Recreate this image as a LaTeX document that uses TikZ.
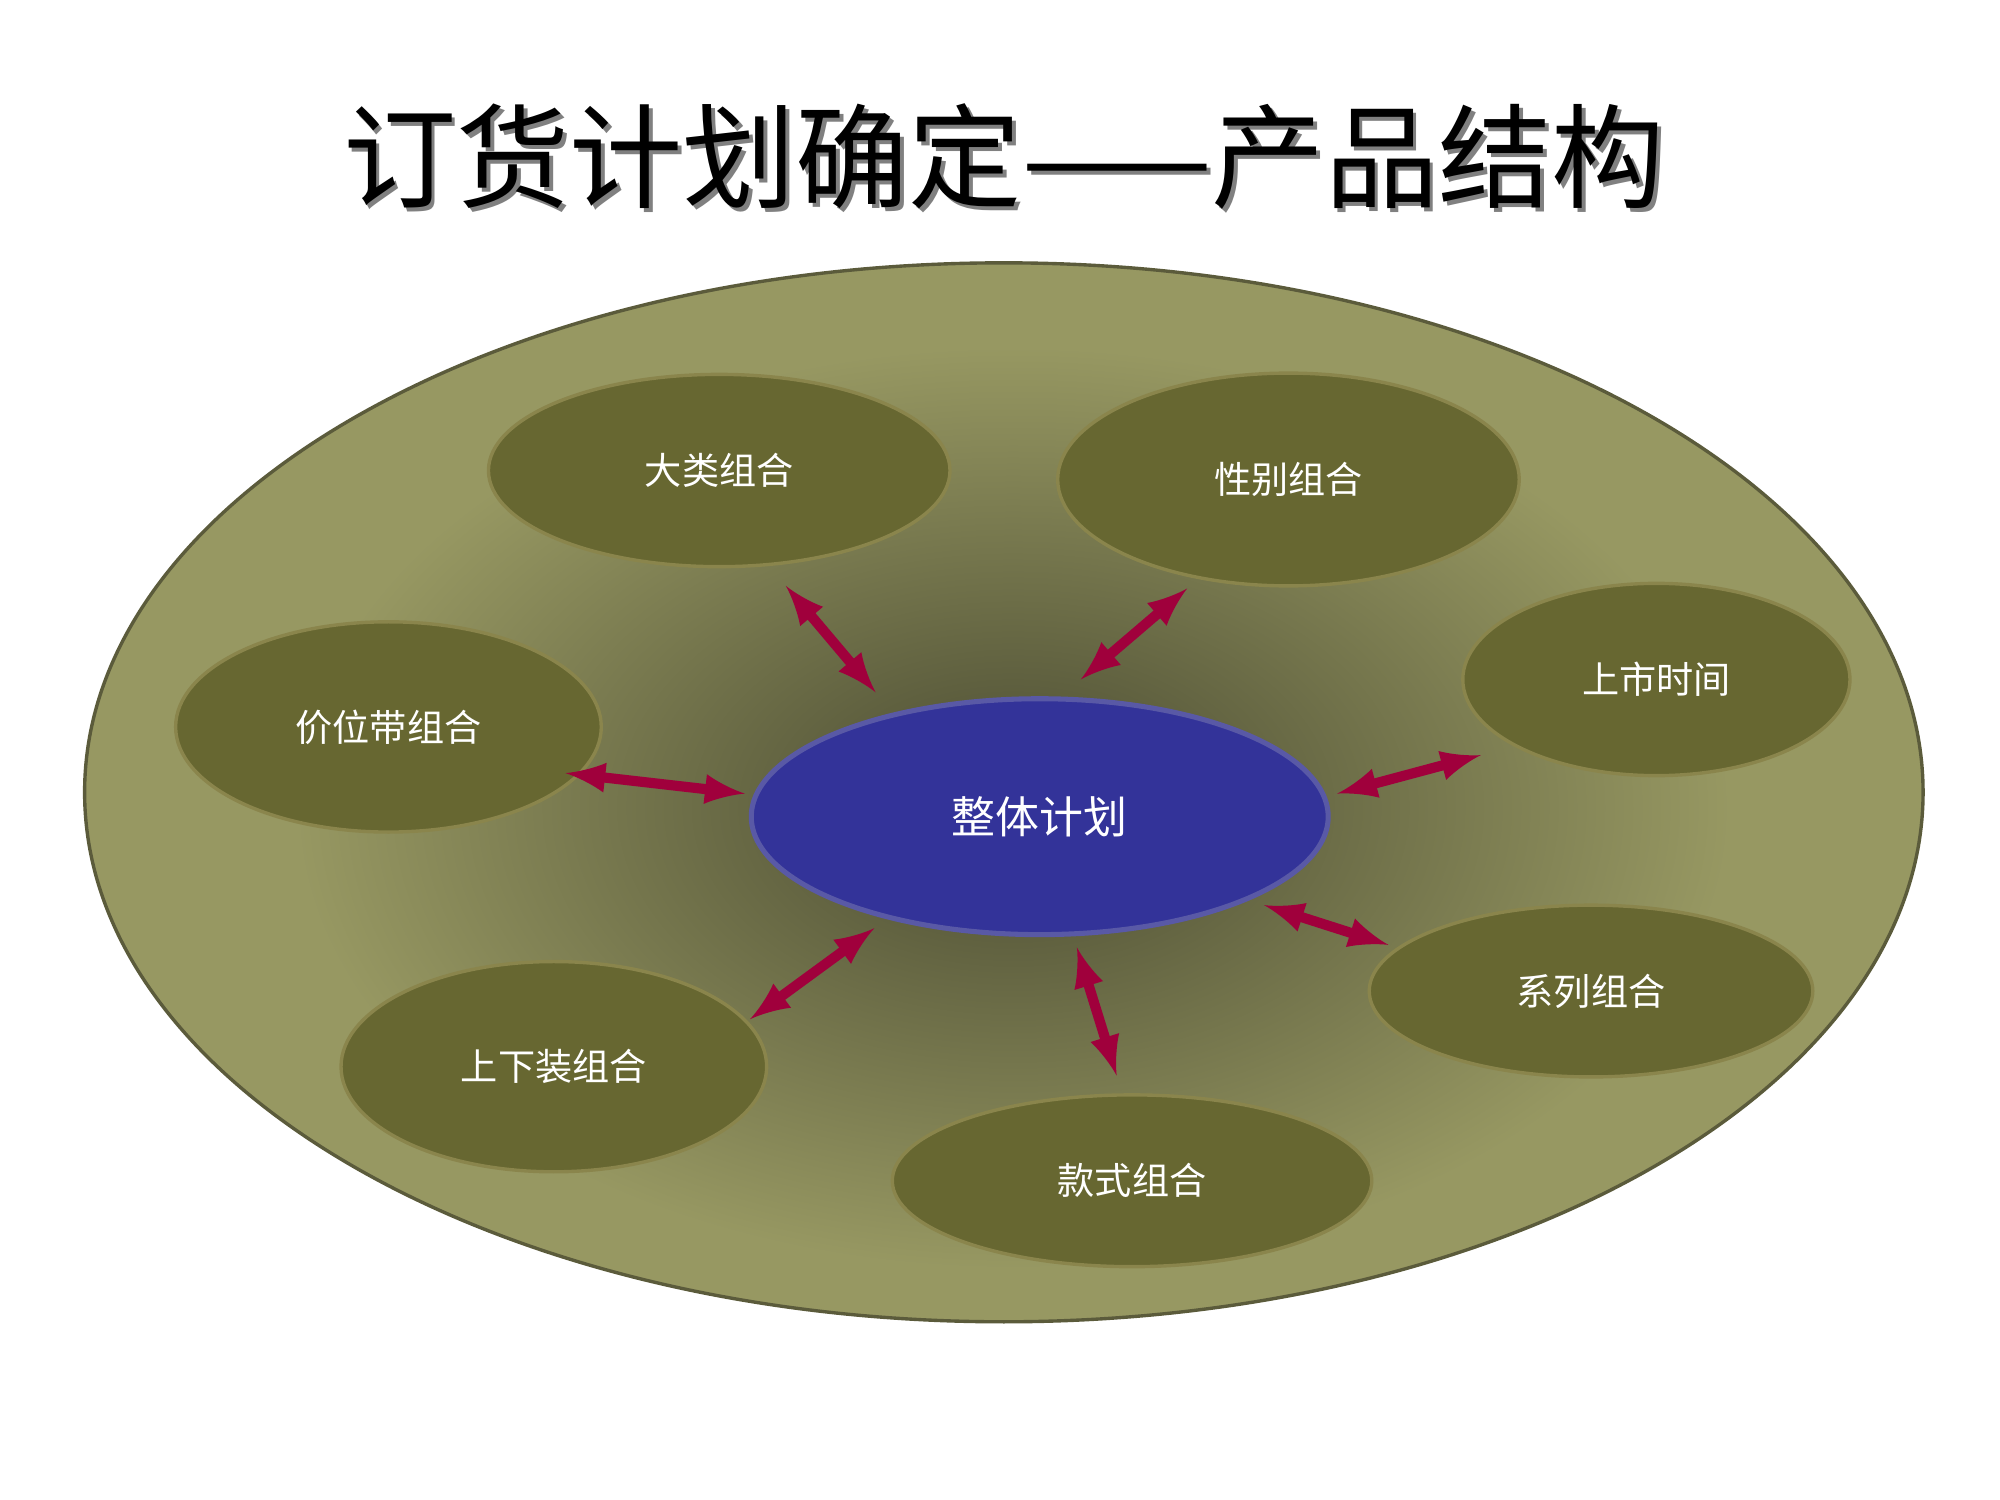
\documentclass[tikz,border=0pt]{standalone}
\usepackage{fontspec}
\newfontfamily\cjk{Noto Sans CJK SC}
\begin{document}
\begin{tikzpicture}[x=0.01333cm,y=-0.01333cm,
  sub/.style={draw=black!10!olive!50!gray,line width=1pt,fill=subfill},
  lbl/.style={text=white,font=\cjk\fontsize{11}{13}\selectfont},
  arr/.style={<->,>=latex,draw=arrowc,line width=3pt,shorten >=0pt,shorten <=0pt}]
\definecolor{bigfill}{HTML}{979862}
\definecolor{bigdark}{HTML}{4A4B32}
\definecolor{subfill}{HTML}{676731}
\definecolor{arrowc}{HTML}{A0003C}
\definecolor{centc}{HTML}{333399}
\useasboundingbox (0,0) rectangle (1560,1170);
\fill[white] (0,0) rectangle (1560,1170);
% title
\node[font=\cjk\fontsize{33.5}{38}\selectfont,text=gray] (titleshadow) at (786,125) {订货计划确定——产品结构};
\node[font=\cjk\fontsize{33.5}{38}\selectfont,text=black] (title) at (783,122) {订货计划确定——产品结构};
% big ellipse
\fill[bigfill] (783,618) ellipse [x radius=717,y radius=413];
\shade[inner color=bigdark,outer color=bigfill] (790,630) ellipse [x radius=560,y radius=360];
\draw[black!40!bigfill,line width=1pt] (783,618) ellipse [x radius=717,y radius=413];
% sub ellipses
\path[sub] (561,367) ellipse [x radius=180,y radius=75];
\path[sub] (1005,374) ellipse [x radius=180,y radius=83];
\path[sub] (1292,530) ellipse [x radius=151,y radius=75];
\path[sub] (303,567) ellipse [x radius=166,y radius=82];
\path[sub] (1241,773) ellipse [x radius=173,y radius=67];
\path[sub] (432,832) ellipse [x radius=166,y radius=82];
\path[sub] (883,921) ellipse [x radius=187,y radius=67];
\path[draw=blue!30!gray,line width=1.5pt,fill=centc] (811,637) ellipse [x radius=225,y radius=92];
% labels
\node[lbl] (dalei) at (561,367) {大类组合};
\node[lbl] (xingbie) at (1005,374) {性别组合};
\node[lbl] (shangshi) at (1292,530) {上市时间};
\node[lbl] (jiawei) at (303,567) {价位带组合};
\node[lbl] (xilie) at (1241,773) {系列组合};
\node[lbl] (shangxia) at (432,832) {上下装组合};
\node[lbl] (kuanshi) at (883,921) {款式组合};
\node[lbl,font=\cjk\fontsize{13}{15}\selectfont] (zhengti) at (811,637) {整体计划};
% arrows
\coordinate (a1) at (613,457); \coordinate (b1) at (683,540);
\coordinate (a2) at (926,459); \coordinate (b2) at (843,530);
\coordinate (a3) at (441,603); \coordinate (b3) at (581,619);
\coordinate (a4) at (1155,589); \coordinate (b4) at (1043,619);
\coordinate (a5) at (1083,737); \coordinate (b5) at (986,706);
\coordinate (a6) at (585,795); \coordinate (b6) at (682,724);
\coordinate (a7) at (871,839); \coordinate (b7) at (840,739);
\foreach \i in {1,...,7} {\draw[arr] (a\i) -- (b\i);}
\end{tikzpicture}
\end{document}
